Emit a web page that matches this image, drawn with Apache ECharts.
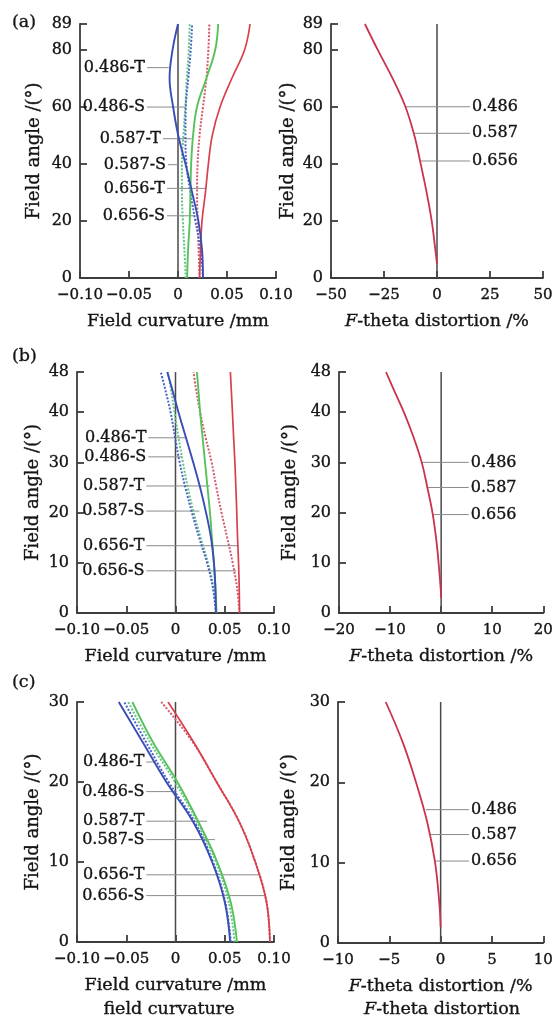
<!DOCTYPE html>
<html>
<head>
<meta charset="utf-8">
<script src="https://cdn.jsdelivr.net/npm/echarts@6/dist/echarts.min.js"></script>
<style>
  html, body { margin: 0; padding: 0; background: #ffffff; }
  #chart { width: 556px; height: 1026px; }
</style>
</head>
<body>
<div id="chart"></div>
<script>
// Curve labels: wavelength (µm) + T (tangential) / S (sagittal)
const curveNames = ['0.486-T', '0.486-S', '0.587-T', '0.587-S', '0.656-T', '0.656-S'];
const wavelengthNames = ['0.486', '0.587', '0.656'];

// ---------- (a) field curvature, mm ----------
const angleA = [0, 10, 20, 30, 40, 50, 60, 70, 80, 89];
const a486T = [0.0255, 0.0245, 0.0208, 0.0144, 0.0076, 0.0002, -0.0050, -0.0086, -0.0055, 0.0000];
const a486S = [0.0255, 0.0230, 0.0177, 0.0127, 0.0086, 0.0076, 0.0080, 0.0105, 0.0130, 0.0144];
const a587T = [0.0093, 0.0103, 0.0120, 0.0127, 0.0134, 0.0154, 0.0194, 0.0290, 0.0380, 0.0410];
const a587S = [0.0080, 0.0065, 0.0050, 0.0040, 0.0040, 0.0055, 0.0075, 0.0090, 0.0110, 0.0120];
const a656T = [0.0220, 0.0230, 0.0245, 0.0280, 0.0310, 0.0350, 0.0430, 0.0550, 0.0680, 0.0735];
const a656S = [0.0220, 0.0210, 0.0200, 0.0195, 0.0200, 0.0220, 0.0255, 0.0290, 0.0310, 0.0320];
const leadAngleA = [73.7, 59.9, 48.8, 39.7, 31.4, 21.8];
const leadStartA = [-0.0316, -0.0316, -0.0153, -0.0102, -0.0112, -0.0112];
const leadEndA = [-0.0094, 0.0076, 0.0139, 0.0000, 0.0279, 0.0178];

// ---------- (a) F-theta distortion, % ----------
const distAngleA = [5, 10, 20, 30, 40, 50, 60, 70, 80, 89];
const distA = [0, -0.8, -2.5, -4.9, -7.7, -10.7, -14.9, -21.0, -28.0, -34.0];
const distLeadAngleA = [60, 50.7, 41];
const distLeadStartA = [-14.6, -11.2, -7.6];
const distLeadEndA = [15.6, 15.6, 15.6];

// ---------- (b) field curvature, mm ----------
const angleB = [0, 5, 10, 15, 20, 25, 30, 35, 40, 45, 48];
const b486T = [0.0410, 0.0405, 0.0390, 0.0360, 0.0310, 0.0250, 0.0180, 0.0105, 0.0030, -0.0040, -0.0083];
const b486S = [0.0410, 0.0380, 0.0320, 0.0240, 0.0167, 0.0100, 0.0042, -0.0005, -0.0050, -0.0110, -0.0150];
const b587T = [0.0417, 0.0405, 0.0390, 0.0370, 0.0350, 0.0325, 0.0300, 0.0275, 0.0250, 0.0230, 0.0217];
const b587S = [0.0412, 0.0385, 0.0330, 0.0255, 0.0185, 0.0125, 0.0075, 0.0030, -0.0010, -0.0050, -0.0080];
const b656T = [0.0650, 0.0647, 0.0640, 0.0630, 0.0622, 0.0613, 0.0603, 0.0590, 0.0578, 0.0565, 0.0557];
const b656S = [0.0650, 0.0625, 0.0580, 0.0525, 0.0467, 0.0415, 0.0367, 0.0305, 0.0250, 0.0205, 0.0183];
const leadAngleB = [34.9, 31.1, 25.3, 20.3, 13.4, 8.4];
const leadStartB = [-0.0276, -0.0276, -0.0296, -0.0296, -0.0296, -0.0296];
const leadEndB = [0.0117, 0.0067, 0.0350, 0.0243, 0.0643, 0.0617];

// ---------- (b) F-theta distortion, % ----------
const distAngleB = [3, 5, 10, 15, 20, 25, 30, 35, 40, 45, 48];
const distB = [0, -0.1, -0.5, -1.0, -1.7, -2.7, -3.8, -5.4, -7.3, -9.5, -10.8];
const distLeadAngleB = [30, 25, 19.6];
const distLeadStartB = [-3.8, -2.7, -1.6];
const distLeadEndB = [5.4, 5.4, 5.4];

// ---------- (c) field curvature, mm ----------
const angleC = [0, 5, 10, 15, 20, 25, 30];
const c486T = [0.0555, 0.0500, 0.0372, 0.0180, -0.0093, -0.0334, -0.0576];
const c486S = [0.0562, 0.0505, 0.0380, 0.0195, -0.0070, -0.0300, -0.0520];
const c587T = [0.0624, 0.0560, 0.0424, 0.0234, 0.0020, -0.0230, -0.0438];
const c587S = [0.0600, 0.0540, 0.0410, 0.0220, -0.0005, -0.0260, -0.0480];
const c656T = [0.0959, 0.0924, 0.0810, 0.0648, 0.0417, 0.0183, -0.0076];
const c656S = [0.0959, 0.0924, 0.0810, 0.0648, 0.0417, 0.0175, -0.0145];
const leadAngleC = [22.5, 18.8, 15.1, 12.8, 8.4, 5.8];
const leadStartC = [-0.0296, -0.0296, -0.0296, -0.0296, -0.0296, -0.0296];
const leadEndC = [-0.0197, 0.0010, 0.0320, 0.0400, 0.0855, 0.0914];

// ---------- (c) F-theta distortion, % ----------
const distAngleC = [2, 5, 10, 15, 20, 25, 30];
const distC = [0, -0.13, -0.54, -1.3, -2.4, -3.7, -5.35];
const distLeadAngleC = [16.6, 13.5, 10.2];
const distLeadStartC = [-1.45, -1.0, -0.58];
const distLeadEndC = [2.77, 2.77, 2.77];

// ---------- styling ----------
const FONT = 'DejaVu Serif';
const INK = '#141414';
const AXIS = '#3c3c3c';
// thin outline in the text colour gives the printed, slightly heavy look
const heavy = { textBorderColor: INK, textBorderWidth: 0.35 };
const curveStyle = {
  '0.486-T': { color: '#3a4cb6', type: 'solid', width: 1.9 },
  '0.486-S': { color: '#4a66c6', type: [2, 1.6], width: 2 },
  '0.587-T': { color: '#58c25a', type: 'solid', width: 1.9 },
  '0.587-S': { color: '#62c48a', type: [2, 1.6], width: 2 },
  '0.656-T': { color: '#d8404e', type: 'solid', width: 1.7 },
  '0.656-S': { color: '#d35a6e', type: [2, 1.6], width: 2 }
};
// back-to-front drawing order
const drawOrder = ['0.656-S', '0.587-S', '0.486-S', '0.656-T', '0.587-T', '0.486-T'];

const grids = [
  { left: 80, top: 24, width: 196, height: 254 },
  { left: 331, top: 24, width: 212, height: 254 },
  { left: 77, top: 372, width: 197, height: 241 },
  { left: 339, top: 372, width: 208, height: 241 },
  { left: 77, top: 702, width: 197, height: 240 },
  { left: 338, top: 702, width: 207, height: 241 }
];

const panels = [
  { kind: 'fc', angles: angleA, curves: [a486T, a486S, a587T, a587S, a656T, a656S],
    lead: [leadAngleA, leadStartA, leadEndA], yMax: 89, yInt: 20, nameGap: 37 },
  { kind: 'dist', angles: distAngleA, values: distA, xMax: 50, xInt: 25,
    lead: [distLeadAngleA, distLeadStartA, distLeadEndA], yMax: 89, yInt: 20, nameGap: 34 },
  { kind: 'fc', angles: angleB, curves: [b486T, b486S, b587T, b587S, b656T, b656S],
    lead: [leadAngleB, leadStartB, leadEndB], yMax: 48, yInt: 10, nameGap: 35 },
  { kind: 'dist', angles: distAngleB, values: distB, xMax: 20, xInt: 10,
    lead: [distLeadAngleB, distLeadStartB, distLeadEndB], yMax: 48, yInt: 10, nameGap: 40 },
  { kind: 'fc', angles: angleC, curves: [c486T, c486S, c587T, c587S, c656T, c656S],
    lead: [leadAngleC, leadStartC, leadEndC], yMax: 30, yInt: 10, nameGap: 35 },
  { kind: 'dist', angles: distAngleC, values: distC, xMax: 10, xInt: 5,
    lead: [distLeadAngleC, distLeadStartC, distLeadEndC], yMax: 30, yInt: 10, nameGap: 40 }
];

const minus = '\u2212';
function fmtFc(v) {
  if (Math.abs(v) < 1e-9) return '0';
  return (v < 0 ? minus : '') + Math.abs(v).toFixed(2);
}
function fmtDist(v) {
  if (Math.abs(v) < 1e-9) return '0';
  return (v < 0 ? minus : '') + Math.round(Math.abs(v));
}

const axisLineStyle = { color: AXIS, width: 1.8 };
const italicRich = { i: Object.assign({ fontStyle: 'italic', fontFamily: FONT, fontSize: 17.5, color: INK }, heavy) };

const xAxes = [], yAxes = [], series = [];

panels.forEach((p, gi) => {
  const isFc = p.kind === 'fc';
  xAxes.push({
    type: 'value', gridIndex: gi,
    min: isFc ? -0.1 : -p.xMax, max: isFc ? 0.1 : p.xMax, interval: isFc ? 0.05 : p.xInt,
    name: isFc ? 'Field curvature /mm' : '{i|F}-theta distortion /%',
    nameLocation: 'middle', nameGap: 34,
    nameTextStyle: Object.assign({ fontFamily: FONT, fontSize: 17.5, color: INK, rich: italicRich }, heavy),
    axisLine: { show: true, onZero: false, lineStyle: axisLineStyle },
    axisTick: { show: true, inside: true, length: 7, lineStyle: axisLineStyle },
    splitLine: { show: false },
    axisLabel: Object.assign({ fontFamily: FONT, fontSize: 15, color: INK, margin: 10,
                 formatter: isFc ? fmtFc : fmtDist }, heavy)
  });
  yAxes.push({
    type: 'value', gridIndex: gi, min: 0, max: p.yMax, interval: p.yInt,
    name: 'Field angle /(°)', nameLocation: 'middle', nameGap: p.nameGap,
    nameTextStyle: Object.assign({ fontFamily: FONT, fontSize: 18, color: INK }, heavy),
    axisLine: { show: true, onZero: false, lineStyle: axisLineStyle },
    axisTick: { show: true, inside: true, length: 7, lineStyle: axisLineStyle },
    splitLine: { show: false },
    axisLabel: Object.assign({ fontFamily: FONT, fontSize: 16, color: INK, margin: 8 }, heavy)
  });

  // vertical reference line at zero
  series.push({
    type: 'line', xAxisIndex: gi, yAxisIndex: gi, silent: true, z: 1,
    symbol: 'none', animation: false,
    lineStyle: { color: '#4a4a4a', width: 1.5 },
    data: [[0, 0], [0, p.yMax]]
  });

  // leader lines with their labels
  const [la, ls, le] = p.lead;
  la.forEach((ang, k) => {
    const text = isFc ? curveNames[k] : wavelengthNames[k];
    const labelAt = isFc ? 0 : 1;
    const pts = [[ls[k], ang], [le[k], ang]].map((pt, j) => (j === labelAt ? {
      value: pt,
      label: Object.assign({ show: true, position: isFc ? 'left' : 'right', distance: 2,
               formatter: text, fontFamily: FONT, fontSize: 16, color: INK }, heavy)
    } : { value: pt }));
    series.push({
      type: 'line', xAxisIndex: gi, yAxisIndex: gi, silent: true, z: 1,
      symbol: 'circle', symbolSize: 0, showSymbol: true, animation: false,
      lineStyle: { color: '#8a8a8a', width: 1 },
      data: pts
    });
  });

  if (isFc) {
    drawOrder.forEach(nm => {
      const k = curveNames.indexOf(nm);
      const st = curveStyle[nm];
      series.push({
        name: nm, type: 'line', xAxisIndex: gi, yAxisIndex: gi, z: 3,
        showSymbol: false, smooth: 0.4, animation: false,
        lineStyle: { color: st.color, type: st.type, width: st.width },
        data: p.angles.map((a, i) => [p.curves[k][i], a])
      });
    });
  } else {
    series.push({
      type: 'line', xAxisIndex: gi, yAxisIndex: gi, z: 3,
      showSymbol: false, smooth: 0.4, animation: false,
      lineStyle: { color: '#c9344b', width: 1.8 },
      data: p.angles.map((a, i) => [p.values[i], a])
    });
  }
});

const titleStyle = Object.assign({ fontFamily: FONT, fontSize: 17.5, fontWeight: 'normal', color: INK, rich: italicRich }, heavy);
const titles = [
  { text: '(a)', left: 12, top: 13, textStyle: titleStyle },
  { text: '(b)', left: 12, top: 347, textStyle: titleStyle },
  { text: '(c)', left: 12, top: 673, textStyle: titleStyle },
  { text: 'field curvature', left: 169, top: 1000, textAlign: 'center', textStyle: titleStyle },
  { text: '{i|F}-theta distortion', left: 442, top: 1000, textAlign: 'center', textStyle: titleStyle }
];
titles.forEach(t => { t.padding = 0; });

const chart = echarts.init(document.getElementById('chart'), null, { renderer: 'canvas' });
chart.setOption({
  backgroundColor: '#ffffff',
  animation: false,
  title: titles,
  grid: grids,
  xAxis: xAxes,
  yAxis: yAxes,
  series: series
});
</script>
</body>
</html>
